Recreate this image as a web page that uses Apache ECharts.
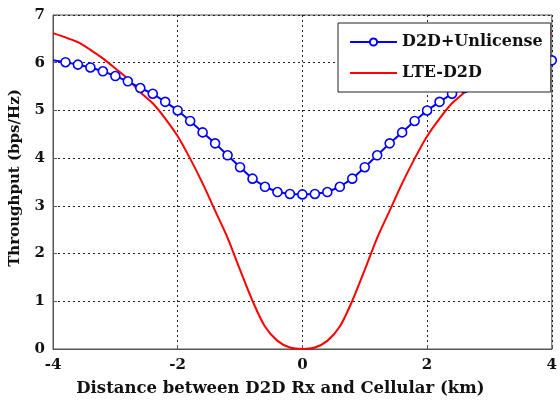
<!DOCTYPE html>
<html>
<head>
<meta charset="utf-8">
<script src="https://cdn.jsdelivr.net/npm/echarts@6/dist/echarts.min.js"></script>
<style>html,body{margin:0;padding:0;background:#fff}#c{width:560px;height:402px}</style>
</head>
<body>
<div id="c"></div>
<script>
const distance = [-4.0,-3.8,-3.6,-3.4,-3.2,-3.0,-2.8,-2.6,-2.4,-2.2,-2.0,-1.8,-1.6,-1.4,-1.2,-1.0,-0.8,-0.6,-0.4,-0.2,0.0,
  0.2,0.4,0.6,0.8,1.0,1.2,1.4,1.6,1.8,2.0,2.2,2.4,2.6,2.8,3.0,3.2,3.4,3.6,3.8,4.0];
const d2dUnlicense = [6.05,6.01,5.96,5.90,5.82,5.72,5.61,5.47,5.35,5.18,5.00,4.78,4.54,4.31,4.06,3.81,3.57,3.40,3.29,3.25,3.24,
  3.25,3.29,3.40,3.57,3.81,4.06,4.31,4.54,4.78,5.00,5.18,5.35,5.47,5.61,5.72,5.82,5.90,5.96,6.01,6.05];
const lteD2d = [6.62,6.53,6.43,6.27,6.09,5.88,5.66,5.38,5.15,4.83,4.46,3.99,3.47,2.90,2.33,1.66,1.01,0.47,0.17,0.03,0.00,
  0.03,0.17,0.47,1.01,1.66,2.33,2.90,3.47,3.99,4.46,4.83,5.15,5.38,5.66,5.88,6.09,6.27,6.43,6.53,6.62];
const seriesNames = ['D2D+Unlicense','LTE-D2D'];
const xTicks = [-4,-2,0,2,4];
const yTicks = [0,1,2,3,4,5,6,7];

const font = 'DejaVu Serif';
const chart = echarts.init(document.getElementById('c'), null, {renderer:'canvas'});
const blueData = distance.map((x,i)=> i===0 ? {value:[x,d2dUnlicense[i]], symbol:'none'} : [x,d2dUnlicense[i]]);
const redData = distance.map((x,i)=>[x,lteD2d[i]]);
const gridLine = {show:true, lineStyle:{color:'#222', type:[2,3], width:1}};
chart.setOption({
  animation:false,
  backgroundColor:'#fff',
  grid:{left:50, top:15, right:5, bottom:47, show:true, borderColor:'#555', borderWidth:1, backgroundColor:'transparent'},
  legend:{
    orient:'vertical', left:338, top:23, padding:[11,8,11,11], itemGap:15,
    itemWidth:47, itemHeight:9,
    backgroundColor:'#fff', borderColor:'#222', borderWidth:1, borderRadius:0,
    textStyle:{fontFamily:font, fontWeight:'bold', fontSize:16, color:'#111'},
    data:[{name:seriesNames[0]}, {name:seriesNames[1], itemStyle:{opacity:0}}]
  },
  xAxis:{
    type:'value', min:xTicks[0], max:xTicks[xTicks.length-1], interval:2,
    axisLine:{show:true, onZero:false, lineStyle:{color:'#555'}},
    axisTick:{show:true, inside:true, length:4, lineStyle:{color:'#555'}},
    axisLabel:{fontFamily:font, fontWeight:'bold', fontSize:15, color:'#111', margin:9},
    splitLine:gridLine,
    name:'Distance between D2D Rx and Cellular (km)', nameLocation:'middle', nameGap:31,
    nameTextStyle:{fontFamily:font, fontWeight:'bold', fontSize:16.5, color:'#111', padding:[0,44,0,0]}
  },
  yAxis:{
    type:'value', min:yTicks[0], max:yTicks[yTicks.length-1], interval:1,
    axisLine:{show:true, onZero:false, lineStyle:{color:'#555'}},
    axisTick:{show:true, inside:true, length:4, lineStyle:{color:'#555'}},
    axisLabel:{fontFamily:font, fontWeight:'bold', fontSize:15, color:'#111', margin:8},
    splitLine:gridLine,
    name:'Throughput (bps/Hz)', nameLocation:'middle', nameGap:30,
    nameTextStyle:{fontFamily:font, fontWeight:'bold', fontSize:15, color:'#111', padding:[0,0,0,8]}
  },
  series:[
    {name:seriesNames[0], type:'line', data:blueData, symbol:'circle', symbolSize:9, showSymbol:true, clip:false,
      itemStyle:{color:'#fff', borderColor:'#0000ff', borderWidth:1.6},
      lineStyle:{color:'#0000ff', width:2}, z:3},
    {name:seriesNames[1], type:'line', data:redData, symbol:'none', smooth:0.3,
      itemStyle:{color:'#ff0000'}, lineStyle:{color:'#ff0000', width:2}, z:2}
  ]
});
</script>
</body>
</html>
